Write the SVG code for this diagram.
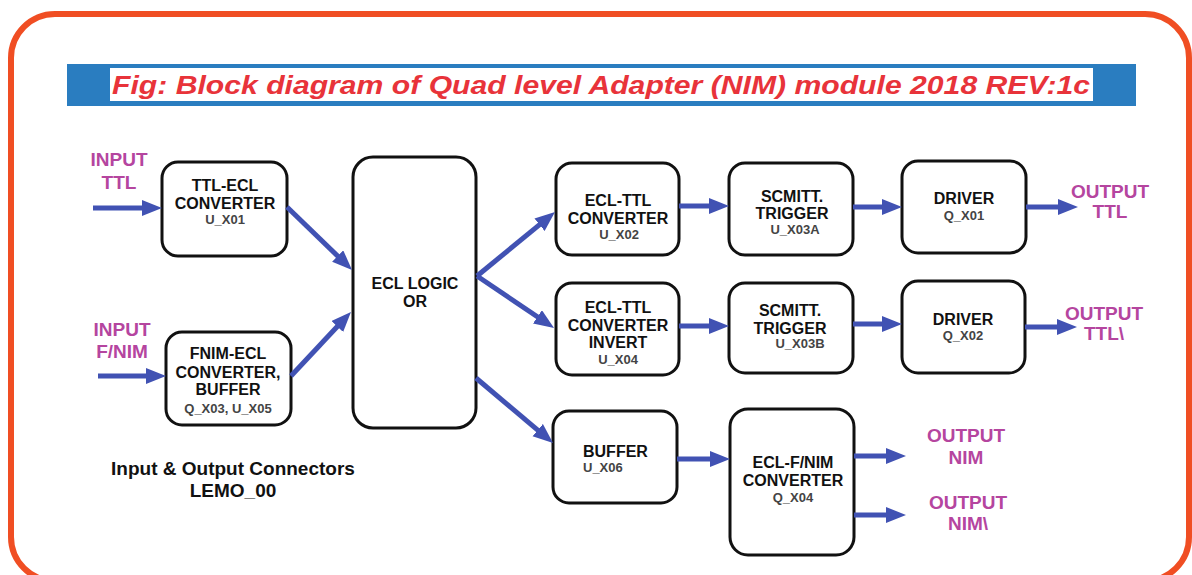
<svg xmlns="http://www.w3.org/2000/svg" width="1192" height="575" viewBox="0 0 1192 575">
<style>
.box{fill:#fff;stroke:#111;stroke-width:3}
.t{font-family:"Liberation Sans",Arial,sans-serif;font-weight:bold;font-size:16px;fill:#111;text-anchor:middle}
.s{font-family:"Liberation Sans",Arial,sans-serif;font-weight:bold;font-size:13px;fill:#444;text-anchor:middle}
.l{text-anchor:start}
.io{font-family:"Liberation Sans",Arial,sans-serif;font-weight:bold;font-size:19px;fill:#b5459f;text-anchor:middle}
.note{font-family:"Liberation Sans",Arial,sans-serif;font-weight:bold;font-size:19px;fill:#111;text-anchor:middle}
.ar{stroke:#4152b3;stroke-width:5;fill:none;marker-end:url(#ah)}
</style>
<defs>
<marker id="ah" markerUnits="userSpaceOnUse" markerWidth="22" markerHeight="18" refX="12" refY="8" orient="auto">
<path d="M0,0 L20,8 L0,16 z" fill="#4152b3"/>
</marker>
</defs>
<rect x="0" y="0" width="1192" height="575" fill="#fff"/>
<rect x="11" y="14" width="1178" height="567" rx="44" fill="none" stroke="#f04e23" stroke-width="6"/>
<g id="title">
<rect x="67" y="64" width="1069" height="42" fill="#2a7dc0"/>
<rect x="110" y="68" width="983" height="33" fill="#fff"/>
<text x="112" y="94" font-family="'Liberation Sans',Arial,sans-serif" font-weight="bold" font-style="italic" font-size="26" fill="#e8333a" textLength="978" lengthAdjust="spacingAndGlyphs">Fig: Block diagram of Quad level Adapter (NIM) module 2018 REV:1c</text>
</g>
<g id="in-ttl"><text class="io" x="119" y="166">INPUT</text><text class="io" x="119" y="189">TTL</text></g>
<g id="in-fnim"><text class="io" x="122" y="336">INPUT</text><text class="io" x="122" y="358">F/NIM</text></g>
<g id="ttl-ecl"><rect class="box" x="162" y="162" width="125" height="94" rx="16"/>
<text class="t" x="225" y="191">TTL-ECL</text><text class="t" x="225" y="209">CONVERTER</text><text class="s" x="225" y="224">U_X01</text></g>
<g id="fnim-ecl"><rect class="box" x="166" y="332" width="125" height="93" rx="16"/>
<text class="t" x="228" y="359">FNIM-ECL</text><text class="t" x="228" y="378">CONVERTER,</text><text class="t" x="228" y="395">BUFFER</text><text class="s" x="228" y="413">Q_X03, U_X05</text></g>
<g id="ecl-logic"><rect class="box" x="353" y="157" width="123" height="271" rx="20"/>
<text class="t" x="415" y="289">ECL LOGIC</text><text class="t" x="415" y="307">OR</text></g>
<g id="ecl-ttl"><rect class="box" x="556" y="163" width="123" height="92" rx="16"/>
<text class="t" x="618" y="206">ECL-TTL</text><text class="t" x="618" y="224">CONVERTER</text><text class="s" x="619" y="239">U_X02</text></g>
<g id="schmitt-a"><rect class="box" x="729" y="163" width="124" height="92" rx="16"/>
<text class="t" x="792" y="202">SCMITT.</text><text class="t" x="792" y="219">TRIGGER</text><text class="s" x="795" y="234">U_X03A</text></g>
<g id="driver-1"><rect class="box" x="902" y="161" width="124" height="92" rx="16"/>
<text class="t" x="964" y="204">DRIVER</text><text class="s" x="964" y="220">Q_X01</text></g>
<g id="ecl-ttl-inv"><rect class="box" x="556" y="283" width="123" height="92" rx="16"/>
<text class="t" x="618" y="313">ECL-TTL</text><text class="t" x="618" y="331">CONVERTER</text><text class="t" x="618" y="348">INVERT</text><text class="s" x="618" y="364">U_X04</text></g>
<g id="schmitt-b"><rect class="box" x="729" y="283" width="124" height="90" rx="16"/>
<text class="t" x="790" y="316">SCMITT.</text><text class="t" x="790" y="334">TRIGGER</text><text class="s" x="800" y="348">U_X03B</text></g>
<g id="driver-2"><rect class="box" x="902" y="281" width="123" height="92" rx="16"/>
<text class="t" x="963" y="325">DRIVER</text><text class="s" x="963" y="340">Q_X02</text></g>
<g id="buffer"><rect class="box" x="553" y="411" width="124" height="92" rx="16"/>
<text class="t l" x="583" y="457">BUFFER</text><text class="s l" x="583" y="472">U_X06</text></g>
<g id="ecl-fnim"><rect class="box" x="730" y="409" width="124" height="146" rx="18"/>
<text class="t" x="793" y="468">ECL-F/NIM</text><text class="t" x="793" y="486">CONVERTER</text><text class="s" x="793" y="502">Q_X04</text></g>
<g id="out-ttl"><text class="io" x="1110" y="198">OUTPUT</text><text class="io" x="1110" y="218">TTL</text></g>
<g id="out-ttl-inv"><text class="io" x="1104" y="320">OUTPUT</text><text class="io" x="1104" y="340">TTL\</text></g>
<g id="out-nim"><text class="io" x="966" y="442">OUTPUT</text><text class="io" x="966" y="464">NIM</text></g>
<g id="out-nim-inv"><text class="io" x="968" y="509">OUTPUT</text><text class="io" x="968" y="530">NIM\</text></g>
<g id="note"><text class="note" x="233" y="475">Input &amp; Output Connectors</text><text class="note" x="233" y="497">LEMO_00</text></g>
<g id="connectors">
<line class="ar" x1="93" y1="208" x2="154" y2="208"/>
<line class="ar" x1="98" y1="376" x2="158" y2="376"/>
<line class="ar" x1="287" y1="207" x2="346.3" y2="264.4"/>
<line class="ar" x1="291" y1="376" x2="345.5" y2="317.8"/>
<line class="ar" x1="477" y1="276" x2="548.8" y2="217.1"/>
<line class="ar" x1="477" y1="276" x2="547.4" y2="323.5"/>
<line class="ar" x1="476" y1="378" x2="546.9" y2="437.8"/>
<line class="ar" x1="679" y1="206" x2="721" y2="206"/>
<line class="ar" x1="679" y1="326" x2="721" y2="326"/>
<line class="ar" x1="853" y1="207" x2="894" y2="207"/>
<line class="ar" x1="853" y1="324" x2="894" y2="324"/>
<line class="ar" x1="1026" y1="207" x2="1070" y2="207"/>
<line class="ar" x1="1025" y1="327" x2="1069" y2="327"/>
<line class="ar" x1="677" y1="459" x2="722" y2="459"/>
<line class="ar" x1="854" y1="456" x2="898" y2="456"/>
<line class="ar" x1="854" y1="515" x2="898" y2="515"/>
</g>
</svg>
